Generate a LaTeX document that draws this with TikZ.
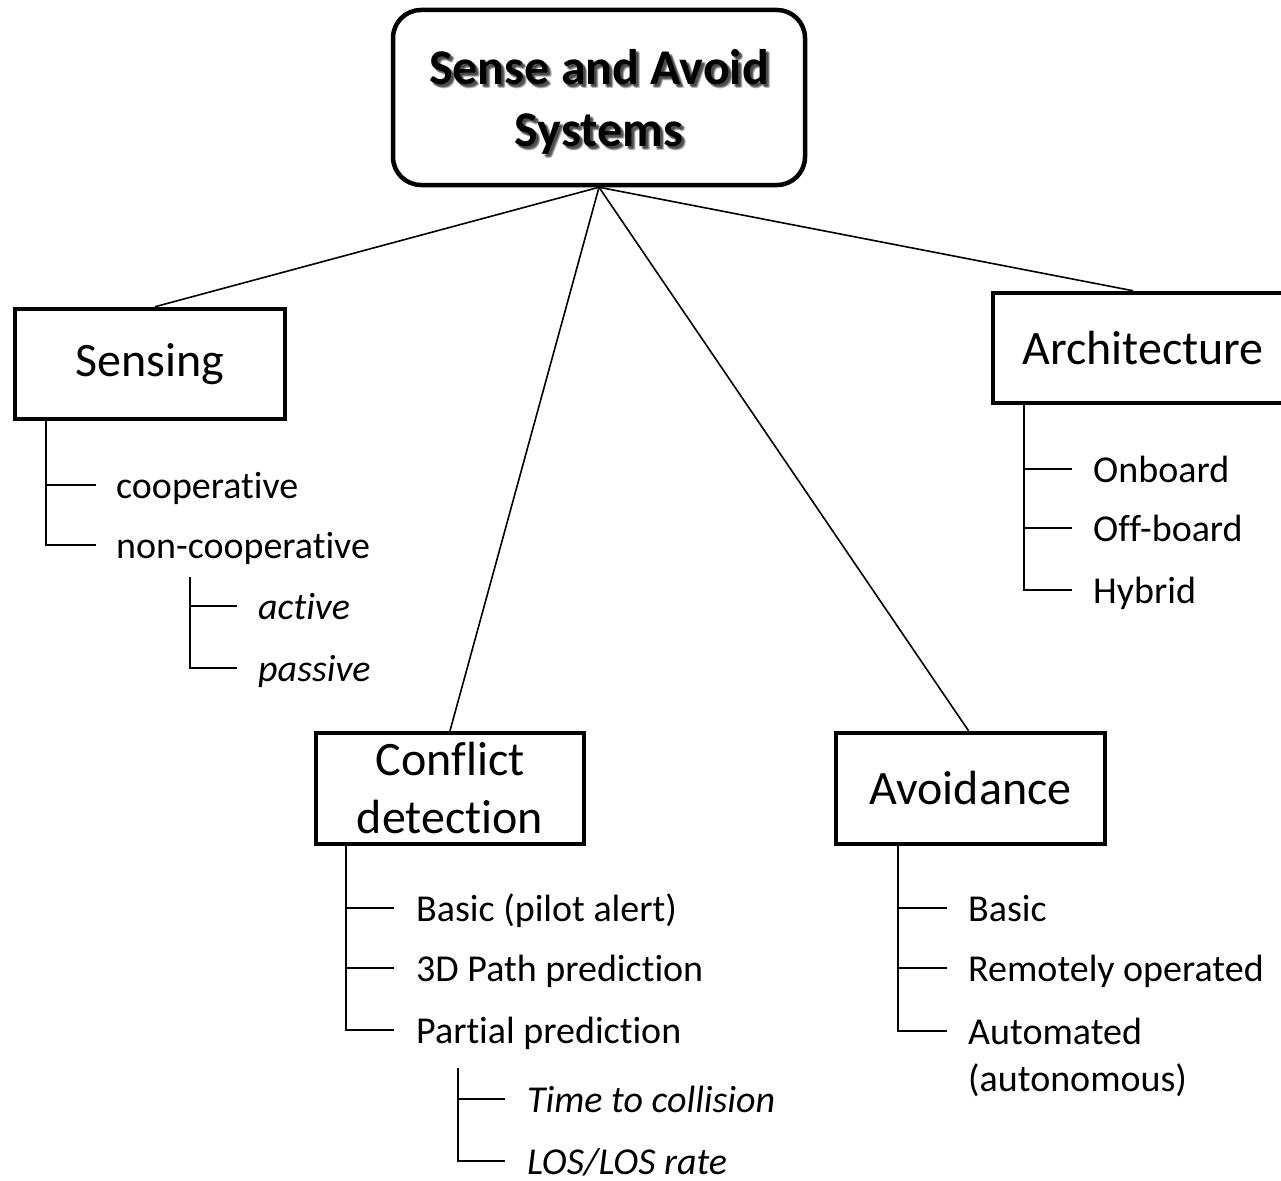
\documentclass[tikz,border=0pt]{standalone}
\usepackage{fontspec}
\setmainfont{Carlito}[Ligatures=NoCommon]
\begin{document}
\begin{tikzpicture}[x=1pt,y=-1pt,
  titlebox/.style={draw, line width=4.5pt, rounded corners=28pt,
    minimum width=412pt, minimum height=175pt, inner sep=0pt},
  titletext/.style={align=center, inner sep=0pt,
    font=\bfseries\fontsize{50}{62}\selectfont},
  haze/.style={titletext, text=black, opacity=0.16},
  catbox/.style={draw, line width=4.5pt, inner sep=0pt, align=center,
    font=\fontsize{48}{58}\selectfont},
  item/.style={anchor=west, inner sep=0pt, text height=32pt, text depth=6pt,
    font=\fontsize{38}{46}\selectfont},
  subitem/.style={item, font=\itshape\fontsize{38}{46}\selectfont},
  link/.style={line width=1.6pt},
  branch/.style={line width=1.8pt}]
\useasboundingbox (0,0) rectangle (1281,1180);

% root box; the title carries a soft drop shadow built from faint copies
\node[titlebox] (sas) at (599,97.5) {};
\foreach \dx/\dy in {2/2, 3/3, 4/4, 3/2, 2/3, 4/3, 3/4} {
  \node[haze] at (599+\dx,101.5+\dy) {Sense and Avoid\\Systems};
}
\node[titletext] (sastext) at (599,101.5) {Sense and Avoid\\Systems};

% first-level categories
\node[catbox, minimum width=270pt, minimum height=110pt] (sens) at (150,364) {Sensing};
\node[catbox, minimum width=268pt, minimum height=111pt] (conf) at (450,788.5) {Conflict\\detection};
\node[catbox, minimum width=269pt, minimum height=111pt] (avoid) at (970.5,788.5) {Avoidance};
\node[catbox, minimum width=300pt, minimum height=110pt] (arch) at (1143,348) {Architecture};

% root to categories
\draw[link] (sas.south) -- ([xshift=5pt]sens.north);
\draw[link] (sas.south) -- (conf.north);
\draw[link] (sas.south) -- ([xshift=-2pt]avoid.north);
\draw[link] (sas.south) -- ([xshift=-10pt]arch.north);

% Sensing
\node[item] (coop) at (116,485) {cooperative};
\node[item] (noncoop) at (116,545) {non-cooperative};
\draw[branch] ([xshift=33pt]sens.south west) |- ([xshift=-20pt]coop.west);
\draw[branch] ([xshift=33pt]sens.south west) |- ([xshift=-20pt]noncoop.west);
\coordinate (ncroot) at (190,577);
\node[subitem] (active) at (258,606) {active};
\node[subitem] (passive) at (258,668) {passive};
\draw[branch] (ncroot) |- ([xshift=-21pt]active.west);
\draw[branch] (ncroot) |- ([xshift=-21pt]passive.west);

% Conflict detection
\node[item] (cbasic) at (416,908) {Basic (pilot alert)};
\node[item] (cpath) at (416,968) {3D Path prediction};
\node[item] (cpart) at (416,1030) {Partial prediction};
\draw[branch] ([xshift=32pt]conf.south west) |- ([xshift=-22pt]cbasic.west);
\draw[branch] ([xshift=32pt]conf.south west) |- ([xshift=-22pt]cpath.west);
\draw[branch] ([xshift=32pt]conf.south west) |- ([xshift=-22pt]cpart.west);
\coordinate (pproot) at (458,1068);
\node[subitem] (ttc) at (527,1099) {Time to collision};
\node[subitem] (los) at (527,1161) {LOS/LOS rate};
\draw[branch] (pproot) |- ([xshift=-22pt]ttc.west);
\draw[branch] (pproot) |- ([xshift=-22pt]los.west);

% Avoidance
\node[item] (abasic) at (968,908) {Basic};
\node[item] (aremote) at (968,968) {Remotely operated};
\node[item] (aauto) at (968,1031) {Automated};
\node[item] (aautonote) at (968,1078) {(autonomous)};
\draw[branch] ([xshift=64pt]avoid.south west) |- ([xshift=-21pt]abasic.west);
\draw[branch] ([xshift=64pt]avoid.south west) |- ([xshift=-21pt]aremote.west);
\draw[branch] ([xshift=64pt]avoid.south west) |- ([xshift=-21pt]aauto.west);

% Architecture
\node[item] (onboard) at (1093,469) {Onboard};
\node[item] (offboard) at (1093,528) {Off-board};
\node[item] (hybrid) at (1093,590) {Hybrid};
\draw[branch] ([xshift=33pt]arch.south west) |- ([xshift=-21pt]onboard.west);
\draw[branch] ([xshift=33pt]arch.south west) |- ([xshift=-21pt]offboard.west);
\draw[branch] ([xshift=33pt]arch.south west) |- ([xshift=-21pt]hybrid.west);
\end{tikzpicture}
\end{document}
